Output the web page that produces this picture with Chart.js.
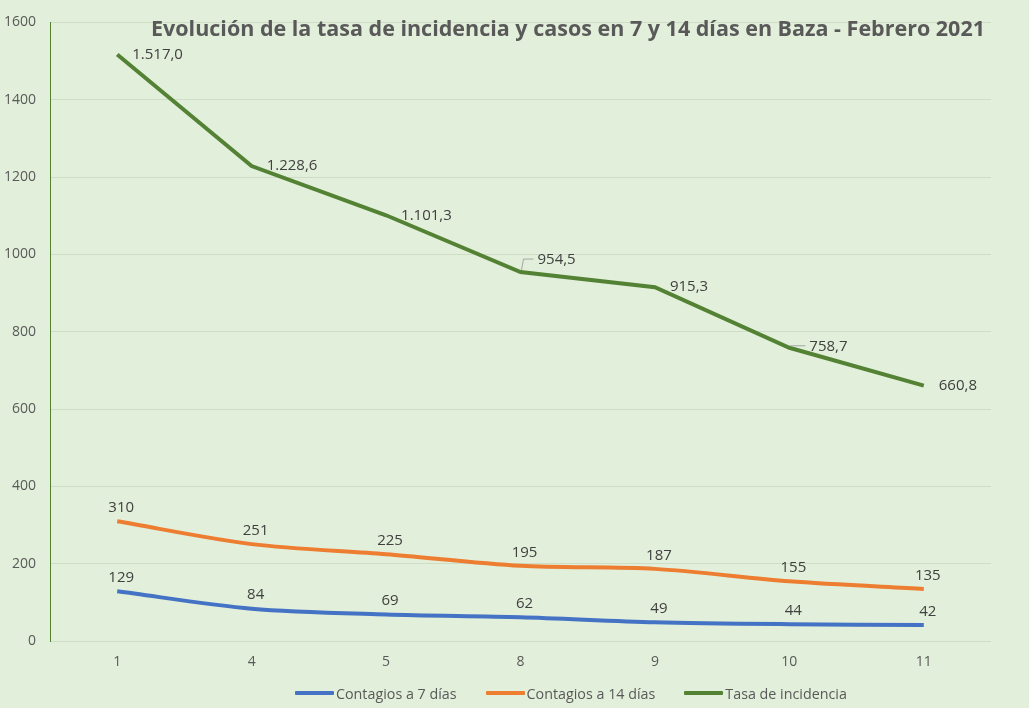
<!DOCTYPE html>
<html>
<head>
<meta charset="utf-8">
<script src="https://cdn.jsdelivr.net/npm/chart.js@4/dist/chart.umd.min.js"></script>
<style>
  html, body { margin: 0; padding: 0; background: #E2EFDA; }
  #wrap { position: relative; width: 1029px; height: 708px; }
  #legend {
    position: absolute; left: 295px; top: 683px; height: 20px;
    display: flex; align-items: center; gap: 29px;
    font-family: 'Open Sans'; font-size: 14.3px; color: #595959;
  }
  #legend .item { display: flex; align-items: center; white-space: nowrap; }
  #legend .sw { width: 39px; height: 4px; margin-right: 2px; border-radius: 1px; }
</style>
</head>
<body>
<div id="wrap"><canvas id="chart"></canvas><div id="legend"></div></div>
<script>
// datos
const categories = ["1", "4", "5", "8", "9", "10", "11"];
const contagios7 = [129, 84, 69, 62, 49, 44, 42];
const contagios14 = [310, 251, 225, 195, 187, 155, 135];
const tasaIncidencia = [1517.0, 1228.6, 1101.3, 954.5, 915.3, 758.7, 660.8];
const yTicks = [0, 200, 400, 600, 800, 1000, 1200, 1400, 1600];

const titleText = "Evolución de la tasa de incidencia y casos en 7 y 14 días en Baza - Febrero 2021";

const fmtTasa = (v) =>
  v.toLocaleString("es-ES", { minimumFractionDigits: 1, maximumFractionDigits: 1, useGrouping: "always" });

// título dibujado encima del área del gráfico (como en Excel)
const titlePlugin = {
  id: "overlayTitle",
  afterDraw: (chart) => {
    const { ctx } = chart;
    ctx.save();
    ctx.font = "bold 21.5px 'Open Sans'";
    ctx.fillStyle = "#595959";
    ctx.textAlign = "center";
    ctx.textBaseline = "middle";
    ctx.fillText(titleText, 568, 30);
    ctx.restore();
  },
};

// etiquetas de datos
const labelPlugin = {
  id: "dataLabels",
  afterDatasetsDraw: (chart) => {
    const { ctx } = chart;
    ctx.save();
    ctx.font = "15px 'Open Sans'";
    ctx.fillStyle = "#404040";
    chart.data.datasets.forEach((ds, i) => {
      const meta = chart.getDatasetMeta(i);
      meta.data.forEach((pt, j) => {
        const v = ds.data[j];
        if (i === 2) {
          // a la derecha del punto
          let dy = 0, dx = 15;
          if (j === 3) { dy = -12; dx = 17; }
          if (j === 5) { dy = -1; dx = 20; }
          ctx.textAlign = "left";
          ctx.textBaseline = "middle";
          ctx.fillText(fmtTasa(v), pt.x + dx, pt.y + dy);
          if (j === 3 || j === 5) {
            // línea guía
            ctx.strokeStyle = "#a6a6a6";
            ctx.lineWidth = 1;
            ctx.beginPath();
            ctx.moveTo(pt.x + 1, pt.y - 2);
            ctx.lineTo(pt.x + 3, pt.y + dy - 1);
            ctx.lineTo(pt.x + dx - 4, pt.y + dy - 1);
            ctx.stroke();
          }
        } else {
          ctx.textAlign = "center";
          ctx.textBaseline = "bottom";
          ctx.fillText(String(v), pt.x + 4, pt.y - 6);
        }
      });
    });
    ctx.restore();
  },
};

const bgPlugin = {
  id: "bg",
  beforeDraw: (chart) => {
    const { ctx, width, height } = chart;
    ctx.save();
    ctx.fillStyle = "#E2EFDA";
    ctx.fillRect(0, 0, width, height);
    ctx.restore();
  },
};

const ctx = document.getElementById("chart").getContext("2d");
const chart = new Chart(ctx, {
  type: "line",
  data: {
    labels: categories,
    datasets: [
      {
        label: "Contagios a 7 días",
        data: contagios7,
        borderColor: "#4472C4",
        backgroundColor: "#4472C4",
        borderWidth: 4,
        tension: 0.3,
        pointRadius: 0,
      },
      {
        label: "Contagios a 14 días",
        data: contagios14,
        borderColor: "#ED7D31",
        backgroundColor: "#ED7D31",
        borderWidth: 4,
        tension: 0.3,
        pointRadius: 0,
      },
      {
        label: "Tasa de incidencia",
        data: tasaIncidencia,
        borderColor: "#548235",
        backgroundColor: "#548235",
        borderWidth: 4,
        tension: 0,
        pointRadius: 0,
      },
    ],
  },
  options: {
    responsive: true,
    maintainAspectRatio: false,
    animation: false,
    layout: { padding: { top: 14, right: 38, left: 2, bottom: 26 } },
    plugins: {
      legend: { display: false },
      tooltip: { enabled: false },
      title: { display: false },
    },
    scales: {
      x: {
        offset: true,
        grid: { display: false, drawTicks: false },
        border: { display: false },
        ticks: {
          color: "#595959",
          font: { family: "'Open Sans'", size: 14 },
          padding: 12,
        },
      },
      y: {
        min: 0,
        max: 1600,
        afterBuildTicks: (axis) => {
          axis.ticks = yTicks.map((v) => ({ value: v }));
        },
        afterFit: (axis) => {
          axis.width = 48;
        },
        grid: { color: "#CFDCC6", lineWidth: 1, drawTicks: false },
        border: { display: true, color: "#548235", width: 1 },
        ticks: {
          color: "#595959",
          font: { family: "'Open Sans'", size: 14 },
          padding: 14,
          callback: (v) => String(v),
        },
      },
    },
  },
  plugins: [bgPlugin, titlePlugin, labelPlugin],
});

// leyenda en HTML, construida con los datasets
const legendEl = document.getElementById("legend");
chart.data.datasets.forEach((ds) => {
  const item = document.createElement("div");
  item.className = "item";
  const sw = document.createElement("span");
  sw.className = "sw";
  sw.style.background = ds.borderColor;
  const txt = document.createElement("span");
  txt.textContent = ds.label;
  item.appendChild(sw);
  item.appendChild(txt);
  legendEl.appendChild(item);
});
</script>
</body>
</html>
